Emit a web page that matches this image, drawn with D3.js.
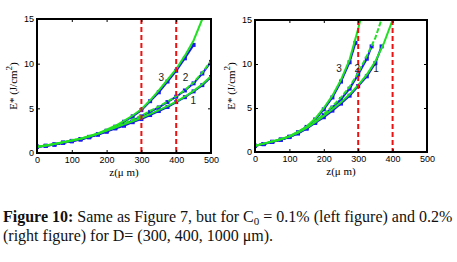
<!DOCTYPE html>
<html>
<head>
<meta charset="utf-8">
<script src="https://cdn.jsdelivr.net/npm/d3@7"></script>
<style>
  html, body { margin: 0; padding: 0; background: #fff; }
  svg { display: block; }
</style>
</head>
<body>
<svg id="fig" width="457" height="262"></svg>
<script>
// ---- data ----
const xTicks = [0, 100, 200, 300, 400, 500];
const yTicks = [0, 5, 10, 15];
const markers = [300, 400];
const curveNames = ['1', '2', '3'];

// left panel, C0 = 0.1%
const zFitLeft = [0, 25, 50, 75, 100, 125, 150, 175, 200, 225, 250, 275, 300, 325, 350, 375, 400, 425, 450, 475, 500];
const fitLeft1 = [0.7, 0.85, 1.0, 1.2, 1.4, 1.6, 1.85, 2.15, 2.5, 2.85, 3.2, 3.55, 3.95, 4.35, 4.8, 5.25, 5.75, 6.3, 6.95, 7.7, 8.6];
const fitLeft2 = [0.7, 0.85, 1.0, 1.2, 1.4, 1.6, 1.85, 2.15, 2.5, 2.9, 3.3, 3.75, 4.2, 4.7, 5.2, 5.75, 6.35, 7.05, 7.9, 9.0, 10.3];
const fitLeft3 = [0.7, 0.85, 1.0, 1.2, 1.4, 1.6, 1.9, 2.2, 2.6, 3.05, 3.6, 4.2, 4.9, 5.9, 7.0, 8.2, 9.4, 10.9, 12.6, 15.0];
const zDataLeft = [0, 0, 25, 50, 75, 100, 125, 150, 175, 200, 225, 250, 275, 300, 325, 350, 375, 400, 425, 450, 475, 500];
const dataLeft1 = [0, 0.7, 0.8, 0.95, 1.15, 1.35, 1.55, 1.8, 2.05, 2.4, 2.75, 3.05, 3.45, 3.8, 4.25, 4.7, 5.15, 5.7, 6.25, 6.9, 7.6, 8.5];
const dataLeft2 = [0, 0.7, 0.8, 0.95, 1.15, 1.3, 1.5, 1.75, 2.1, 2.4, 2.8, 3.2, 3.65, 4.1, 4.6, 5.1, 5.7, 6.3, 7.0, 7.8, 8.9, 10.2];
const dataLeft3 = [0, 0.7, 0.8, 0.95, 1.15, 1.35, 1.55, 1.8, 2.1, 2.5, 2.95, 3.5, 4.1, 4.8, 5.8, 6.8, 8.0, 9.2, 10.6, 12.1];

// right panel, C0 = 0.2%
const zFitRight = [0, 25, 50, 75, 100, 125, 150, 175, 200, 225, 250, 275, 300, 325, 350, 375, 400];
const fitRight1 = [0.7, 0.95, 1.2, 1.45, 1.75, 2.2, 2.75, 3.4, 4.1, 4.85, 5.65, 6.55, 7.6, 8.8, 10.3, 12.4, 15.0];
const fitRight2 = [0.7, 0.95, 1.2, 1.45, 1.75, 2.2, 2.8, 3.5, 4.3, 5.2, 6.2, 7.4, 9.0, 10.9, 13.0, 15.9];
const fitRight3 = [0.7, 0.95, 1.2, 1.45, 1.8, 2.3, 2.9, 3.8, 5.0, 6.4, 8.2, 10.5, 14.0, 18.0];
const zDataRight1 = [0, 0, 25, 50, 75, 100, 125, 150, 175, 200, 225, 250, 275, 300, 325, 350, 368];
const dataRight1 = [0, 0.7, 0.9, 1.15, 1.4, 1.7, 2.1, 2.65, 3.3, 3.95, 4.7, 5.5, 6.4, 7.5, 8.6, 10.1, 12.0];
const zDataRight2 = [0, 0, 25, 50, 75, 100, 125, 150, 175, 200, 225, 250, 275, 300, 325, 339];
const dataRight2 = [0, 0.7, 0.9, 1.15, 1.4, 1.7, 2.15, 2.7, 3.4, 4.2, 5.05, 6.0, 7.2, 8.8, 10.6, 12.0];
const zDataRight3 = [0, 0, 25, 50, 75, 100, 125, 150, 175, 200, 225, 250, 275, 292];
const dataRight3 = [0, 0.7, 0.9, 1.15, 1.4, 1.75, 2.25, 2.85, 3.7, 4.85, 6.2, 8.0, 10.2, 12.4];

// where the curve numbers sit, in data units
const labelsLeft = [[449, 5.9], [427, 8.5], [357, 8.4]];
const labelsRight = [[352, 9.5], [297, 9.5], [244, 9.5]];

const zip = (zs, vs) => vs.map((v, i) => [zs[i], v]);

const panels = [
  {
    id: 'L', box: { x0: 37, x1: 211, y0: 19, y1: 153 },
    fits: [zip(zFitLeft, fitLeft1), zip(zFitLeft, fitLeft2), zip(zFitLeft, fitLeft3)],
    data: [zip(zDataLeft, dataLeft1), zip(zDataLeft, dataLeft2), zip(zDataLeft, dataLeft3)],
    labels: labelsLeft,
  },
  {
    id: 'R', box: { x0: 255, x1: 427, y0: 20, y1: 152 },
    fits: [zip(zFitRight, fitRight1), zip(zFitRight, fitRight2), zip(zFitRight, fitRight3)],
    data: [zip(zDataRight1, dataRight1), zip(zDataRight2, dataRight2), zip(zDataRight3, dataRight3)],
    labels: labelsRight,
  },
];

const svg = d3.select('#fig');
const blue = '#1a1aee';
const green = '#22e022';
const tickFont = '"Liberation Sans", Arial, sans-serif';
const serif = '"Liberation Serif", "Times New Roman", serif';

panels.forEach(p => {
  const b = p.box;
  const x = d3.scaleLinear().domain([0, 500]).range([b.x0, b.x1]);
  const y = d3.scaleLinear().domain([0, 15]).range([b.y1, b.y0]);
  const g = svg.append('g');

  g.append('clipPath').attr('id', 'clip' + p.id)
    .append('rect').attr('x', b.x0).attr('y', b.y0).attr('width', b.x1 - b.x0).attr('height', b.y1 - b.y0);

  const plot = g.append('g').attr('clip-path', `url(#clip${p.id})`);
  const line = d3.line().x(d => x(d[0])).y(d => y(d[1]));

  // measured points: blue line with small square markers
  p.data.forEach(s => {
    plot.append('path').attr('d', line(s)).attr('fill', 'none')
      .attr('stroke', blue).attr('stroke-width', 2);
    plot.selectAll(null).data(s.slice(1)).enter().append('rect')
      .attr('x', d => x(d[0]) - 2).attr('y', d => y(d[1]) - 2)
      .attr('width', 4).attr('height', 4).attr('fill', blue);
  });

  // fitted curves in green, curve 2 dashed
  p.fits.forEach((s, i) => {
    plot.append('path').attr('d', line(s)).attr('fill', 'none')
      .attr('stroke', green).attr('stroke-width', 2)
      .attr('stroke-dasharray', i === 1 ? '5,2' : null);
  });

  // red dashed markers at D = 300, 400
  g.selectAll(null).data(markers).enter().append('line')
    .attr('x1', d => x(d)).attr('x2', d => x(d))
    .attr('y1', b.y0).attr('y2', b.y1)
    .attr('stroke', '#ee1111').attr('stroke-width', 2).attr('stroke-dasharray', '5,3');

  // curve numbers
  g.selectAll(null).data(p.labels).enter().append('text')
    .attr('x', d => x(d[0])).attr('y', d => y(d[1]))
    .attr('text-anchor', 'middle').attr('dy', '0.35em')
    .style('font-family', tickFont).style('font-size', '10px').attr('fill', '#222')
    .text((d, i) => curveNames[i]);

  // axes (MATLAB style: inward ticks on all four sides)
  const axB = d3.axisBottom(x).tickValues(xTicks).tickSize(-3).tickPadding(4);
  const axT = d3.axisTop(x).tickValues(xTicks).tickSize(-3).tickFormat('');
  const axL = d3.axisLeft(y).tickValues(yTicks).tickSize(-3).tickPadding(3);
  const axR = d3.axisRight(y).tickValues(yTicks).tickSize(-3).tickFormat('');
  [
    [axB, `translate(0,${b.y1})`],
    [axT, `translate(0,${b.y0})`],
    [axL, `translate(${b.x0},0)`],
    [axR, `translate(${b.x1},0)`],
  ].forEach(([ax, tr]) => {
    const a = g.append('g').attr('transform', tr).call(ax);
    a.select('.domain').remove();
    a.selectAll('.tick line').attr('stroke', '#000');
    a.selectAll('.tick text').style('font-family', tickFont).style('font-size', '9px').attr('fill', '#000');
  });

  g.append('rect').attr('x', b.x0).attr('y', b.y0)
    .attr('width', b.x1 - b.x0).attr('height', b.y1 - b.y0)
    .attr('fill', 'none').attr('stroke', '#000').attr('stroke-width', 2);

  // axis labels
  g.append('text').attr('x', (b.x0 + b.x1) / 2).attr('y', b.y1 + 23)
    .attr('text-anchor', 'middle')
    .style('font-family', serif).style('font-size', '11px')
    .text('z(\u03bc m)');

  const yl = g.append('text')
    .attr('transform', `translate(${b.x0 - 20},${(b.y0 + b.y1) / 2}) rotate(-90)`)
    .attr('text-anchor', 'middle')
    .style('font-family', serif).style('font-size', '11px');
  yl.append('tspan').text('E* (J/cm');
  yl.append('tspan').attr('dy', -5).style('font-size', '9px').text('2');
  yl.append('tspan').attr('dy', 5).text(')');
});

// caption
const cap = svg.append('g').style('font-family', serif).style('font-size', '16px').attr('fill', '#111');
const l1 = cap.append('text').attr('x', 3).attr('y', 222);
l1.append('tspan').style('font-weight', 'bold').text('Figure 10:');
l1.append('tspan').text(' Same as Figure 7, but for C');
l1.append('tspan').attr('dy', 3).style('font-size', '11px').text('0');
l1.append('tspan').attr('dy', -3).text(' = 0.1% (left figure) and 0.2%');
cap.append('text').attr('x', 3).attr('y', 240.5)
  .text('(right figure) for D= (300, 400, 1000 \u03bcm).');
</script>
</body>
</html>
